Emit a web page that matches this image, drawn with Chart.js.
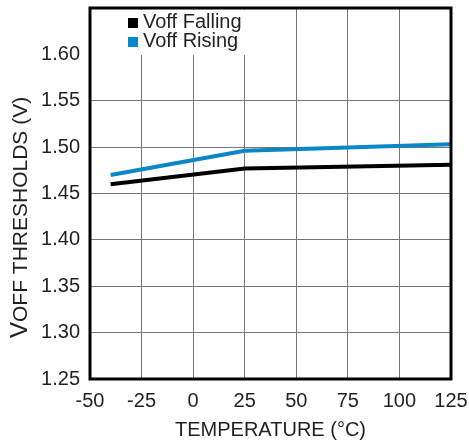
<!DOCTYPE html>
<html>
<head>
<meta charset="utf-8">
<script src="https://cdn.jsdelivr.net/npm/chart.js@4.4.0/dist/chart.umd.min.js"></script>
<style>
  html, body { margin: 0; padding: 0; background: #fff; }
  #wrap { width: 469px; height: 446px; }
</style>
</head>
<body>
<div id="wrap"><canvas id="voffChart" width="469" height="446"></canvas></div>
<script>
// Voff thresholds vs temperature
var temperatures = [-40, 25, 125];
var voffFalling = [1.46, 1.477, 1.481];
var voffRising = [1.47, 1.496, 1.503];
var seriesNames = ["Voff Falling", "Voff Rising"];
var seriesColors = ["#000000", "#0a88c6"];
var xTicks = [-50, -25, 0, 25, 50, 75, 100, 125];
var yTicks = [1.25, 1.30, 1.35, 1.40, 1.45, 1.50, 1.55, 1.60];

var FONT = '"Liberation Sans", Arial, Helvetica, sans-serif';
var TEXT = "#231f20";
var GRID = "#777777";

function toPoints(xs, ys) {
  return xs.map(function (x, i) { return { x: x, y: ys[i] }; });
}

// keep label overhang from shrinking the plot area
function noOverhang(axis) {
  axis.paddingLeft = 0;
  axis.paddingRight = 0;
  axis.paddingTop = 0;
  axis.paddingBottom = 0;
}

// frame, inset legend and the y axis title with its larger "V"
var chartDecor = {
  id: "chartDecor",
  afterDraw: function (chart) {
    var ctx = chart.ctx;
    var a = chart.chartArea;
    ctx.save();

    // legend sits on a white patch that hides the grid behind it
    ctx.fillStyle = "#ffffff";
    ctx.fillRect(a.left + 2, a.top + 2, 162, 45);

    ctx.strokeStyle = "#000";
    ctx.lineWidth = 3;
    ctx.strokeRect(a.left, a.top, a.right - a.left, a.bottom - a.top);

    ctx.font = "20px " + FONT;
    ctx.textBaseline = "alphabetic";
    ctx.textAlign = "left";
    chart.data.datasets.forEach(function (ds, i) {
      var base = a.top + 20 + i * 19;
      ctx.fillStyle = ds.borderColor;
      ctx.fillRect(a.left + 38, base - 10, 10, 10);
      ctx.fillStyle = TEXT;
      ctx.fillText(ds.label, a.left + 53, base);
    });

    ctx.translate(27, 338);
    ctx.rotate(-Math.PI / 2);
    ctx.fillStyle = TEXT;
    ctx.font = "24px " + FONT;
    ctx.fillText("V", 0, 0);
    var w = ctx.measureText("V").width;
    ctx.font = "21px " + FONT;
    ctx.fillText("OFF THRESHOLDS (V)", w, 0);
    ctx.restore();
  }
};

new Chart(document.getElementById("voffChart"), {
  type: "line",
  data: {
    datasets: [
      {
        label: seriesNames[0],
        data: toPoints(temperatures, voffFalling),
        borderColor: seriesColors[0],
        backgroundColor: seriesColors[0],
        borderWidth: 4,
        pointRadius: 0,
        tension: 0
      },
      {
        label: seriesNames[1],
        data: toPoints(temperatures, voffRising),
        borderColor: seriesColors[1],
        backgroundColor: seriesColors[1],
        borderWidth: 4,
        pointRadius: 0,
        tension: 0
      }
    ]
  },
  options: {
    responsive: false,
    animation: false,
    devicePixelRatio: 1,
    layout: { padding: { top: 8, right: 18, left: 0, bottom: 0 } },
    plugins: {
      legend: { display: false },
      tooltip: { enabled: false }
    },
    scales: {
      x: {
        type: "linear",
        min: -50,
        max: 125,
        afterBuildTicks: function (axis) {
          axis.ticks = xTicks.map(function (v) { return { value: v }; });
        },
        afterFit: function (axis) {
          axis.height = 67;
          noOverhang(axis);
        },
        grid: { color: GRID, lineWidth: 1, drawTicks: false },
        border: { display: false },
        ticks: {
          padding: 10,
          color: TEXT,
          font: { family: FONT, size: 20 },
          maxRotation: 0
        },
        title: {
          display: true,
          text: "TEMPERATURE (\u00B0C)",
          color: TEXT,
          font: { family: FONT, size: 20 },
          padding: { top: 0, bottom: 4 }
        }
      },
      y: {
        type: "linear",
        min: 1.25,
        max: 1.65,
        afterBuildTicks: function (axis) {
          axis.ticks = yTicks.map(function (v) { return { value: v }; });
        },
        afterFit: function (axis) {
          axis.width = 90;
          noOverhang(axis);
        },
        grid: {
          lineWidth: 1,
          drawTicks: false,
          color: function (c) {
            // no line across the legend row at 1.60
            return Math.abs(c.tick.value - 1.60) < 1e-6 ? "rgba(0,0,0,0)" : GRID;
          }
        },
        border: { display: false },
        ticks: {
          padding: 10,
          color: TEXT,
          font: { family: FONT, size: 20 },
          callback: function (v) { return Number(v).toFixed(2); }
        }
      }
    }
  },
  plugins: [chartDecor]
});
</script>
</body>
</html>
